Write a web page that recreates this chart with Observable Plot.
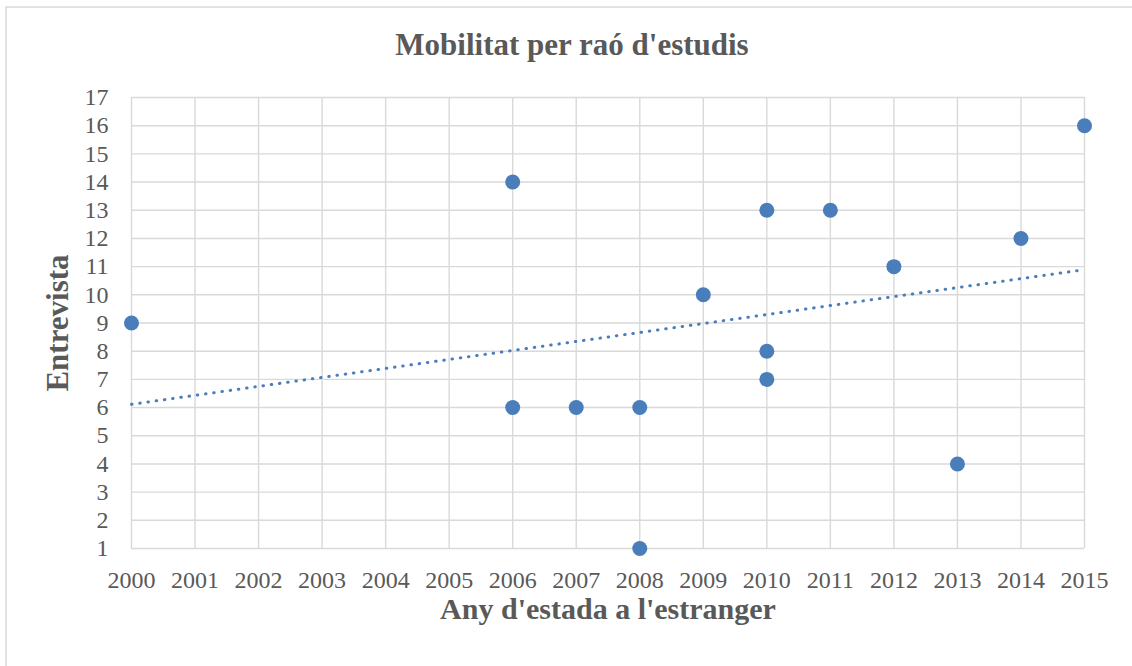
<!DOCTYPE html>
<html><head><meta charset="utf-8">
<script src="https://cdn.jsdelivr.net/npm/d3@7"></script>
<script src="https://cdn.jsdelivr.net/npm/@observablehq/plot@0.6"></script>
<style>body{margin:0;background:#fff}</style>
</head><body><div id="chart"></div>
<script>
const years = [2000,2006,2006,2007,2008,2008,2009,2010,2010,2010,2011,2012,2013,2014,2015];
const interviews = [9,14,6,6,6,1,10,13,8,7,13,11,4,12,16];
const xTicks = [2000,2001,2002,2003,2004,2005,2006,2007,2008,2009,2010,2011,2012,2013,2014,2015];
const yTicks = [1,2,3,4,5,6,7,8,9,10,11,12,13,14,15,16,17];
const title = "Mobilitat per raó d'estudis";
const xLabel = "Any d'estada a l'estranger";
const yLabel = "Entrevista";

const data = years.map((x, i) => ({x, y: interviews[i]}));
const blue = "#4a7ebb";
const grey = "#595959";
const gridColor = "#d9d9d9";

const plot = Plot.plot({
  width: 1132,
  height: 666,
  marginLeft: 131,
  marginRight: 48,
  marginTop: 97,
  marginBottom: 118,
  style: {fontFamily: "'Liberation Serif', serif", color: grey, background: "#fff"},
  x: {domain: [2000, 2015]},
  y: {domain: [1, 17]},
  marks: [
    Plot.gridX(xTicks, {stroke: gridColor, strokeOpacity: 1, strokeWidth: 1.4}),
    Plot.gridY(yTicks, {stroke: gridColor, strokeOpacity: 1, strokeWidth: 1.4}),
    Plot.axisX(xTicks, {tickSize: 0, tickPadding: 22, fontSize: 24, tickFormat: d => String(d), label: null, fill: grey}),
    Plot.axisY(yTicks, {tickSize: 0, tickPadding: 23, fontSize: 24, tickFormat: d => String(d), label: null, fill: grey}),
    Plot.linearRegressionY(data, {x: "x", y: "y", ci: 0, stroke: blue, strokeWidth: 3, strokeLinecap: "round", strokeDasharray: "0.5 7.8"}),
    Plot.dot(data, {x: "x", y: "y", r: 7.5, fill: blue, stroke: "none"}),
    Plot.text([title], {frameAnchor: "top", textAnchor: "middle", lineAnchor: "middle", dx: -36, dy: -52, fontSize: 31, fontWeight: "bold", fill: grey}),
    Plot.text([xLabel], {frameAnchor: "bottom", textAnchor: "middle", lineAnchor: "middle", dy: 61, fontSize: 30, fontWeight: "bold", fill: grey}),
    Plot.text([yLabel], {frameAnchor: "left", textAnchor: "middle", lineAnchor: "middle", dx: -73, rotate: -90, fontSize: 31, fontWeight: "bold", fill: grey})
  ]
});
d3.select(plot).append("rect")
  .attr("x", 6).attr("y", 7).attr("width", 1300).attr("height", 800)
  .attr("fill", "none").attr("stroke", gridColor).attr("stroke-width", 1.5);
document.getElementById("chart").appendChild(plot);
</script>
</body></html>
